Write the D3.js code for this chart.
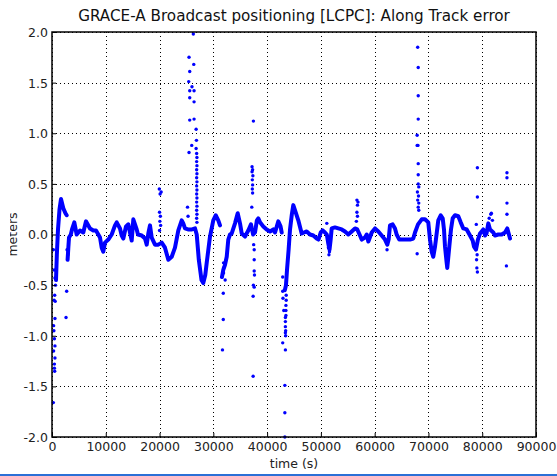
<!DOCTYPE html>
<html>
<head>
<meta charset="utf-8">
<script src="https://cdn.jsdelivr.net/npm/d3@7"></script>
<style>
  body { margin: 0; background: #fff; }
  text { font-family: "DejaVu Sans", sans-serif; }
</style>
</head>
<body>
<svg id="chart" width="557" height="476"></svg>
<script>
const xTicks = [0, 10000, 20000, 30000, 40000, 50000, 60000, 70000, 80000, 90000];
const yTicks = [-2.0, -1.5, -1.0, -0.5, 0.0, 0.5, 1.0, 1.5, 2.0];

// main along-track trace [time s, error m]
const traceStart = [[744, -0.45], [900, -0.2], [1116, 0.05], [1400, 0.25], [1674, 0.35], [2100, 0.26], [2500, 0.21], [2733, 0.19]];
const traceA = [[2900, -0.25], [3050, -0.12], [3160, -0.03], [3500, 0.0], [3720, 0.05], [4150, 0.12], [4590, 0.0], [5207, 0.04],
  [5820, 0.02], [6320, 0.13], [7066, 0.06], [7680, 0.04], [8180, 0.04], [8610, 0.0], [8925, -0.03], [9240, -0.13], [9540, -0.17],
  [9855, -0.08], [10470, -0.05], [11100, 0.0], [11715, 0.09], [12030, 0.12], [12645, 0.06], [12960, -0.01], [13260, -0.04],
  [13760, 0.08], [14190, 0.1], [14500, 0.02], [14820, -0.06], [15120, 0.15], [15750, 0.05], [15990, 0.0], [16680, -0.01],
  [17290, -0.04], [17610, -0.1], [17910, 0.01], [18220, 0.09], [18540, -0.03], [19150, -0.1], [19770, -0.1], [20400, -0.08],
  [21010, -0.13], [21630, -0.25], [22260, -0.22], [22870, -0.13], [23490, 0.04], [24120, 0.14], [24410, 0.11], [24730, 0.06],
  [25290, 0.05], [26030, 0.05], [26600, 0.06], [26910, 0.0], [27300, -0.25], [27800, -0.45], [28130, -0.48], [28500, -0.4],
  [28770, -0.28], [29380, -0.02], [29990, 0.14], [30440, 0.19], [30920, 0.14], [31240, 0.09]];
const traceB = [[31600, -0.42], [31850, -0.35], [32170, -0.3], [32490, -0.22], [32780, -0.05], [33100, 0.0], [33420, 0.01],
  [34030, 0.11], [34530, 0.21], [34960, 0.11], [35280, 0.01], [35890, -0.02], [36500, 0.04], [37000, 0.1], [37400, 0.0],
  [37750, 0.02], [38100, 0.14], [38360, 0.16], [38680, 0.12], [39290, 0.08], [39920, 0.05], [40540, 0.03], [41150, 0.05],
  [41470, 0.02], [42080, 0.13], [42500, 0.08], [42710, 0.02]];
const traceC = [[43300, -0.55], [43510, -0.5], [43700, -0.35], [44000, -0.15], [44260, 0.05], [44600, 0.2], [44870, 0.29],
  [45300, 0.22], [45800, 0.14], [46430, 0.01], [47360, 0.03], [47980, 0.0], [48590, -0.01], [49220, -0.04], [49550, -0.05],
  [49960, 0.02], [50340, 0.04], [50760, 0.02], [51100, 0.0], [51380, -0.09], [51600, -0.15], [51820, -0.05], [52010, 0.06],
  [52620, 0.07], [53240, 0.06], [53870, 0.05], [54480, 0.03], [55100, 0.0], [55730, 0.03], [56340, 0.06], [56770, 0.05],
  [57270, -0.01], [57590, -0.05], [58200, -0.03], [58520, 0.0], [58820, -0.07], [59450, 0.02], [60060, 0.06], [60680, 0.03],
  [61310, -0.01], [61920, -0.05], [62350, -0.1], [62600, -0.05], [62850, 0.09], [63350, 0.1], [63780, 0.06], [64090, 0.0],
  [64580, -0.05], [65320, -0.05], [65960, -0.05], [66570, -0.05], [67180, -0.04], [67500, 0.02], [68060, 0.1], [68750, 0.15],
  [69360, 0.15], [69970, 0.12], [70290, -0.05], [70600, -0.17], [70900, -0.22], [71220, -0.12], [71530, 0.01], [71830, 0.14],
  [72280, 0.19], [72650, 0.16], [72890, 0.05], [73080, -0.12], [73390, -0.28], [73500, -0.33], [73880, -0.12], [74190, 0.05],
  [74510, 0.16], [74940, 0.19], [75550, 0.18], [76000, 0.12], [76480, 0.06], [77110, 0.05], [77730, -0.01], [78230, -0.06],
  [78470, -0.12], [78840, -0.15], [79200, -0.05], [79590, 0.01], [80200, 0.05], [80520, -0.01], [80800, 0.01], [81130, 0.11],
  [81450, 0.05], [82060, 0.02], [82370, -0.01], [82990, 0.0], [83620, 0.0], [84240, 0.02], [84660, 0.06], [85170, -0.04]];

// isolated epochs (jumps / outliers)
const outliers = [
  [250, -0.15], [400, -0.35], [550, -0.43], [650, -0.5], [500, -0.6], [400, -0.65], [600, -0.66], [550, -0.83], [300, -0.9],
  [350, -0.95], [450, -1.03], [550, -1.1], [300, -1.15], [550, -1.22], [450, -1.28], [450, -1.32], [500, -1.35], [250, -1.66],
  [2730, -0.56], [2610, -0.82], [2800, -0.15], [2950, -0.2],
  [19950, 0.45], [20300, 0.42], [20100, 0.4], [20000, 0.22], [20150, 0.18], [20050, 0.13], [20200, 0.09], [20000, 0.04],
  [25200, 0.27], [25300, 0.18],
  [25480, 1.75], [26280, 1.98], [26360, 1.68], [25610, 1.61], [25420, 1.51], [26030, 1.46], [25610, 1.42], [26420, 1.42],
  [25610, 1.35], [26420, 1.31], [25610, 1.13], [26420, 1.14], [26800, 1.04], [25980, 0.88], [25480, 0.81], [26800, 0.85],
  [26860, 0.93], [26900, 0.8], [26950, 0.76], [26900, 0.72], [26950, 0.68], [26900, 0.64], [26950, 0.6], [26900, 0.56],
  [26950, 0.52], [26900, 0.48], [26950, 0.44], [26900, 0.4], [26950, 0.36], [26900, 0.32], [26950, 0.28], [26900, 0.24],
  [26950, 0.2], [26900, 0.16], [26950, 0.12],
  [31850, -0.58], [31850, -0.84], [31700, -1.14], [31900, -0.28], [31900, -0.33], [31900, -0.38], [32200, -0.45],
  [37450, 1.12], [37200, 0.67], [37300, 0.64], [37200, 0.62], [37350, 0.58], [37250, 0.54], [37300, 0.49], [37250, 0.45],
  [37300, 0.41], [37150, 0.27],
  [37500, -0.1], [37600, -0.15], [37600, -0.25], [37600, -0.36], [37650, -0.4], [37450, -0.5], [37600, -0.52], [37400, -0.61],
  [37400, -1.4],
  [42900, -0.42], [42900, -0.56], [42950, -0.63], [43100, -0.75], [43500, -0.75], [43500, -0.7], [43400, -0.82],
  [43400, -0.86], [43400, -0.91], [43400, -0.97], [42900, -1.07], [43400, -1.14], [43300, -1.49], [43300, -1.76], [43300, -2.0],
  [43550, -0.6], [43550, -0.65], [43500, -0.8], [43450, -0.95], [43450, -1.0],
  [51100, 0.11], [51400, -0.13], [51500, -0.2], [51600, -0.17],
  [56700, 0.34], [56900, 0.32], [56800, 0.29], [56700, 0.22], [56800, 0.18], [56600, 0.13],
  [62300, -0.15],
  [68000, 1.85], [68100, 1.65], [68100, 1.37], [68100, 1.14], [67900, 0.98], [67900, 0.88], [68050, 0.88], [68100, 0.7],
  [68100, 0.59], [68100, 0.5], [68200, 0.47], [67950, 0.42], [68150, 0.38], [68000, 0.34], [68200, 0.31], [68100, 0.27],
  [68200, 0.24], [67900, -0.19],
  [79100, 0.66], [79100, 0.37], [78900, 0.1], [79000, -0.33], [79100, -0.37], [78950, -0.25], [79050, -0.2],
  [81300, 0.16], [81700, 0.21], [81600, 0.2], [81900, 0.14],
  [84600, 0.61], [84600, 0.56], [84600, 0.31], [84600, 0.2], [84500, -0.31]
];

const plotLeft = 52, plotRight = 536, plotTop = 32, plotBottom = 437;
const blue = "#0000ff";

const svg = d3.select("#chart");
const x = d3.scaleLinear().domain([0, 90000]).range([plotLeft, plotRight]);
const y = d3.scaleLinear().domain([-2, 2]).range([plotBottom, plotTop]);

// grid
const grid = svg.append("g").attr("stroke", "#000").attr("stroke-width", 1).attr("stroke-dasharray", "1,3");
grid.selectAll(".gx").data(xTicks).join("line")
  .attr("x1", d => Math.round(x(d)) + 0.5).attr("x2", d => Math.round(x(d)) + 0.5)
  .attr("y1", plotTop).attr("y2", plotBottom);
grid.selectAll(".gy").data(yTicks).join("line")
  .attr("y1", d => Math.round(y(d)) + 0.5).attr("y2", d => Math.round(y(d)) + 0.5)
  .attr("x1", plotLeft).attr("x2", plotRight);

// data
const plot = svg.append("g");
const line = d3.line().x(d => x(d[0])).y(d => y(d[1]));
[traceStart, traceA, traceB, traceC].forEach(seg => {
  plot.append("path").datum(seg)
    .attr("d", line)
    .attr("fill", "none")
    .attr("stroke", blue)
    .attr("stroke-width", 4)
    .attr("stroke-linejoin", "round")
    .attr("stroke-linecap", "round");
});
plot.selectAll(".pt").data(outliers).join("circle")
  .attr("cx", d => x(d[0])).attr("cy", d => y(d[1]))
  .attr("r", 1.7).attr("fill", blue);

// axes with inward ticks
const xAxis = d3.axisBottom(x).tickValues(xTicks).tickFormat(d => String(d)).tickSizeInner(-4).tickSizeOuter(0).tickPadding(5);
const yAxis = d3.axisLeft(y).tickValues(yTicks).tickFormat(d => d.toFixed(1)).tickSizeInner(-4).tickSizeOuter(0).tickPadding(4);
const gx = svg.append("g").attr("transform", `translate(0,${plotBottom})`).call(xAxis);
const gy = svg.append("g").attr("transform", `translate(${plotLeft},0)`).call(yAxis);
[gx, gy].forEach(g => {
  g.select(".domain").remove();
  g.selectAll("text").attr("fill", "#222").style("font-size", "12.5px").style("font-family", '"DejaVu Sans", sans-serif');
  g.selectAll("line").attr("stroke", "#000");
});
gy.selectAll("text").attr("dy", "0.35em");

// frame
svg.append("rect")
  .attr("x", plotLeft).attr("y", plotTop).attr("width", plotRight - plotLeft).attr("height", plotBottom - plotTop)
  .attr("fill", "none").attr("stroke", "#000").attr("stroke-width", 1.5);

// labels
svg.append("text").attr("x", (plotLeft + plotRight) / 2).attr("y", 21)
  .attr("text-anchor", "middle").style("font-size", "15.2px").attr("fill", "#111")
  .text("GRACE-A Broadcast positioning [LCPC]: Along Track error");
svg.append("text").attr("x", (plotLeft + plotRight) / 2).attr("y", 468)
  .attr("text-anchor", "middle").style("font-size", "12.5px").attr("fill", "#222")
  .text("time (s)");

// y label: the left edge of the original picture cuts off the tops of its letters
svg.append("clipPath").attr("id", "ylabClip")
  .append("rect").attr("x", 10).attr("y", 150).attr("width", 20).attr("height", 170);
svg.append("g").attr("clip-path", "url(#ylabClip)")
  .append("text")
  .attr("transform", `translate(17,${(plotTop + plotBottom) / 2}) rotate(-90)`)
  .attr("text-anchor", "middle").style("font-size", "12.5px").attr("fill", "#222")
  .text("meters");

// blue strip along the bottom edge of the picture
svg.append("rect").attr("x", 0).attr("y", 474).attr("width", 557).attr("height", 2).attr("fill", "#2b6fd6");
</script>
</body>
</html>
